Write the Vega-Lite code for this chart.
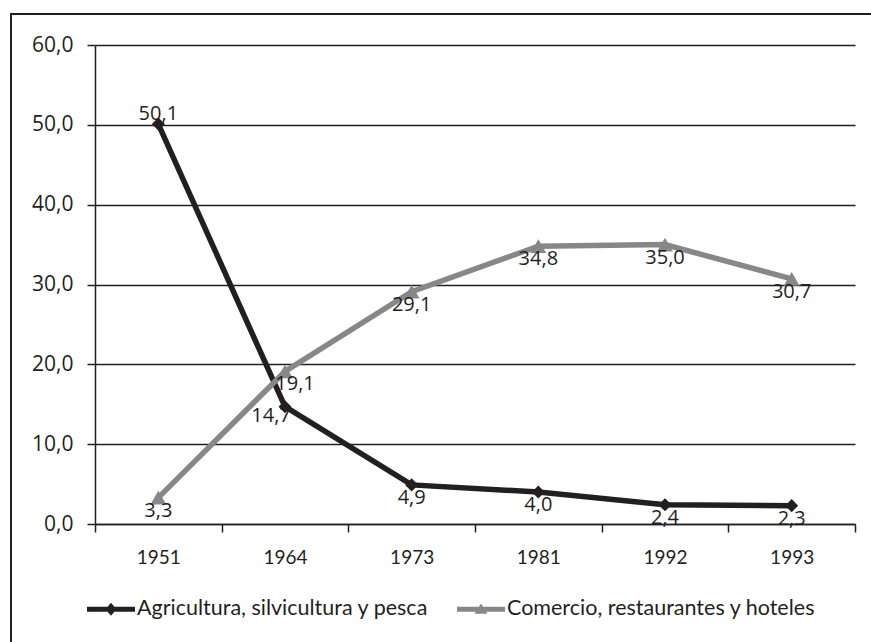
{
  "$schema": "https://vega.github.io/schema/vega-lite/v6.json",
  "width": 880,
  "height": 640,
  "autosize": {"type": "none"},
  "padding": {"left": 11, "top": 14, "right": 0, "bottom": 0},
  "background": "white",
  "config": {
    "locale": {"number": {"decimal": ",", "thousands": ".", "grouping": [3], "currency": ["", " €"]}},
    "view": {"stroke": "#231f20", "strokeWidth": 2},
    "font": "Lato",
    "legend": {
      "orient": "none",
      "legendX": 76,
      "legendY": 571,
      "direction": "horizontal",
      "labelFont": "Lato",
      "labelFontSize": 21.5,
      "labelColor": "#231f20",
      "labelOffset": 2,
      "columnPadding": 28,
      "symbolSize": 2304,
      "symbolOpacity": 1,
      "symbolStrokeWidth": 0,
      "labelLimit": 500
    }
  },
  "data": {
    "values": [
      {"year": "1951", "series": "Agricultura, silvicultura y pesca", "value": 50.1},
      {"year": "1964", "series": "Agricultura, silvicultura y pesca", "value": 14.7},
      {"year": "1973", "series": "Agricultura, silvicultura y pesca", "value": 4.9},
      {"year": "1981", "series": "Agricultura, silvicultura y pesca", "value": 4.0},
      {"year": "1992", "series": "Agricultura, silvicultura y pesca", "value": 2.4},
      {"year": "1993", "series": "Agricultura, silvicultura y pesca", "value": 2.3},
      {"year": "1951", "series": "Comercio, restaurantes y hoteles", "value": 3.3},
      {"year": "1964", "series": "Comercio, restaurantes y hoteles", "value": 19.1},
      {"year": "1973", "series": "Comercio, restaurantes y hoteles", "value": 29.1},
      {"year": "1981", "series": "Comercio, restaurantes y hoteles", "value": 34.8},
      {"year": "1992", "series": "Comercio, restaurantes y hoteles", "value": 35.0},
      {"year": "1993", "series": "Comercio, restaurantes y hoteles", "value": 30.7}
    ]
  },
  "encoding": {
    "x": {
      "field": "year",
      "type": "ordinal",
      "scale": {"type": "band", "range": [84, 844], "paddingInner": 0, "paddingOuter": 0},
      "axis": {
        "orient": "bottom",
        "offset": -130,
        "title": null,
        "labelAngle": 0,
        "tickBand": "extent",
        "tickSize": 8,
        "tickColor": "#231f20",
        "tickWidth": 1.5,
        "domainColor": "#231f20",
        "domainWidth": 1.5,
        "labelFont": "Lato",
        "labelFontSize": 19,
        "labelColor": "#231f20",
        "labelPadding": 16,
        "grid": false
      }
    },
    "y": {
      "field": "value",
      "type": "quantitative",
      "scale": {"domain": [0, 60], "range": [510, 31], "nice": false},
      "axis": {
        "orient": "left",
        "offset": -84,
        "title": null,
        "values": [0, 10, 20, 30, 40, 50, 60],
        "format": ".1f",
        "tickSize": 8,
        "tickColor": "#231f20",
        "tickWidth": 1.5,
        "domainColor": "#231f20",
        "domainWidth": 1.5,
        "labelFont": "Open Sans",
        "labelFontSize": 21,
        "labelColor": "#231f20",
        "labelPadding": 14,
        "grid": true,
        "gridColor": "#231f20",
        "gridWidth": 1.3
      }
    }
  },
  "layer": [
    {
      "transform": [{"filter": "datum.series === 'Agricultura, silvicultura y pesca'"}],
      "mark": {"type": "line", "strokeWidth": 5.5, "strokeJoin": "miter", "color": "#231f20"}
    },
    {
      "transform": [{"filter": "datum.series === 'Comercio, restaurantes y hoteles'"}],
      "mark": {"type": "line", "strokeWidth": 5.5, "strokeJoin": "miter", "color": "#878787"}
    },
    {
      "transform": [{"filter": "datum.series === 'Agricultura, silvicultura y pesca'"}],
      "mark": {"type": "point", "shape": "diamond", "filled": true, "size": 170, "opacity": 1, "color": "#231f20"}
    },
    {
      "transform": [{"filter": "datum.series === 'Comercio, restaurantes y hoteles'"}],
      "mark": {"type": "point", "shape": "triangle-up", "filled": true, "size": 250, "opacity": 1, "color": "#878787"}
    },
    {
      "mark": {"type": "point", "filled": true, "opacity": 0},
      "encoding": {
        "color": {
          "field": "series",
          "type": "nominal",
          "scale": {"domain": ["Agricultura, silvicultura y pesca", "Comercio, restaurantes y hoteles"], "range": ["#231f20", "#878787"]},
          "legend": {"title": null}
        },
        "shape": {
          "field": "series",
          "type": "nominal",
          "scale": {
            "domain": ["Agricultura, silvicultura y pesca", "Comercio, restaurantes y hoteles"],
            "range": [
              "M-1,-0.1H1V0.1H-1Z M0,-0.27L0.23,0L0,0.27L-0.23,0Z",
              "M-1,-0.1H1V0.1H-1Z M0,-0.24L0.27,0.19L-0.27,0.19Z"
            ]
          },
          "legend": {"title": null}
        }
      }
    },
    {
      "transform": [{"filter": "datum.series === 'Agricultura, silvicultura y pesca' && datum.year === '1951'"}],
      "mark": {"type": "text", "font": "Open Sans", "fontSize": 20, "color": "#231f20", "dy": -10},
      "encoding": {"text": {"field": "value", "type": "quantitative", "format": ".1f"}}
    },
    {
      "transform": [{"filter": "datum.series === 'Agricultura, silvicultura y pesca' && datum.year === '1964'"}],
      "mark": {"type": "text", "font": "Open Sans", "fontSize": 20, "color": "#231f20", "dx": -14, "dy": 9},
      "encoding": {"text": {"field": "value", "type": "quantitative", "format": ".1f"}}
    },
    {
      "transform": [{"filter": "datum.series === 'Comercio, restaurantes y hoteles' && datum.year === '1964'"}],
      "mark": {"type": "text", "font": "Open Sans", "fontSize": 20, "color": "#231f20", "dx": 10, "dy": 12},
      "encoding": {"text": {"field": "value", "type": "quantitative", "format": ".1f"}}
    },
    {
      "transform": [{"filter": "datum.year !== '1964' && !(datum.year === '1951' && datum.series === 'Agricultura, silvicultura y pesca')"}],
      "mark": {"type": "text", "font": "Open Sans", "fontSize": 20, "color": "#231f20", "dy": 13},
      "encoding": {"text": {"field": "value", "type": "quantitative", "format": ".1f"}}
    }
  ]
}
